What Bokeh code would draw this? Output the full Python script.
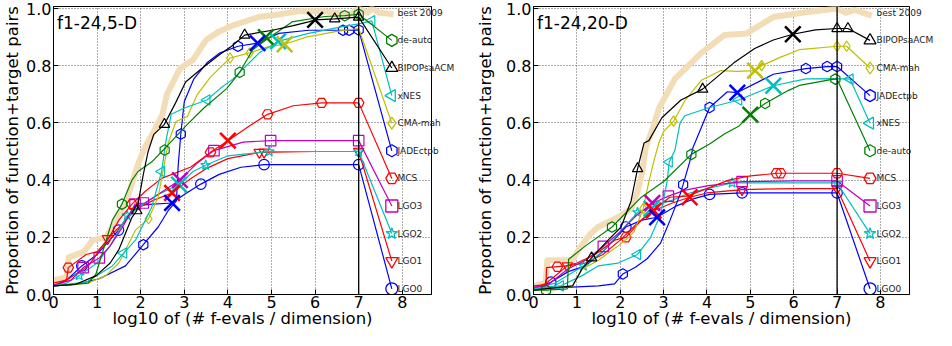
import math
from bokeh.plotting import figure
from bokeh.layouts import row
from bokeh.models import Span, Label, FixedTicker, Range1d, NumeralTickFormatter, LinearAxis
from bokeh.embed import file_html
from bokeh.resources import INLINE

FONT = "DejaVu Sans"

# ---------------- 5-D panel data ----------------
d5_best_x = [0, 0.3, 0.35, 0.7, 0.9, 1.2, 1.45, 1.7, 1.95, 2.1, 2.3, 2.5, 2.6, 2.9, 3.2, 3.5, 3.8, 4.1, 4.7, 5.2, 5.6, 6.2, 6.8, 7.0, 7.2, 7.3, 7.47, 7.8]
d5_best_y = [0.05, 0.06, 0.13, 0.15, 0.19, 0.20, 0.26, 0.34, 0.46, 0.515, 0.57, 0.63, 0.70, 0.79, 0.82, 0.89, 0.92, 0.94, 0.97, 0.98, 0.99, 0.99, 0.98, 1.0, 0.985, 1.0, 0.985, 0.98]

d5_deauto_x = [0, 0.8, 0.97, 1.19, 1.35, 1.57, 1.8, 1.94, 2.25, 2.58, 3.07, 3.45, 3.97, 4.27, 4.57, 4.87, 5.47, 6.22, 6.68, 7.0]
d5_deauto_y = [0.03, 0.04, 0.07, 0.18, 0.26, 0.316, 0.40, 0.43, 0.463, 0.515, 0.595, 0.652, 0.72, 0.777, 0.856, 0.89, 0.953, 0.972, 0.975, 0.98]
d5_deauto_mx = [1.57, 2.55, 4.27, 6.68, 7.0]
d5_deauto_my = [0.316, 0.505, 0.777, 0.975, 0.98]

d5_bipop_x = [0, 0.5, 0.98, 1.3, 1.5, 1.8, 1.91, 2.06, 2.17, 2.3, 2.545, 2.8, 3.03, 3.4, 3.82, 4.1, 4.385, 5.02, 5.5, 5.85, 6.0, 6.45, 7.0]
d5_bipop_y = [0.03, 0.035, 0.066, 0.11, 0.157, 0.27, 0.293, 0.42, 0.50, 0.56, 0.595, 0.67, 0.743, 0.79, 0.84, 0.87, 0.907, 0.924, 0.94, 0.953, 0.96, 0.964, 0.97]
d5_bipop_mx = [1.91, 2.545, 4.385, 6.45, 7.0]
d5_bipop_my = [0.293, 0.595, 0.907, 0.964, 0.97]

d5_xnes_x = [0, 0.75, 1.35, 1.61, 1.88, 2.03, 2.25, 2.48, 2.58, 2.7, 3.0, 3.52, 3.82, 4.12, 4.27, 4.72, 5.15, 5.85, 6.6, 7.0, 7.3]
d5_xnes_y = [0.03, 0.043, 0.10, 0.145, 0.19, 0.236, 0.304, 0.43, 0.538, 0.63, 0.652, 0.68, 0.72, 0.754, 0.777, 0.845, 0.885, 0.913, 0.936, 0.946, 0.957]
d5_xnes_mx = [1.61, 2.48, 3.52, 7.3]
d5_xnes_my = [0.145, 0.43, 0.68, 0.957]

d5_cma_x = [0, 0.8, 1.2, 1.5, 1.88, 2.18, 2.4, 2.55, 2.63, 2.81, 3.07, 3.3, 3.6, 4.05, 4.5, 4.9, 5.3, 5.8, 6.5, 7.0]
d5_cma_y = [0.03, 0.04, 0.066, 0.11, 0.225, 0.265, 0.34, 0.463, 0.53, 0.605, 0.622, 0.70, 0.76, 0.827, 0.845, 0.865, 0.875, 0.90, 0.92, 0.93]
d5_cma_mx = [2.18, 4.05, 4.5]
d5_cma_my = [0.265, 0.827, 0.845]

d5_jade_x = [0, 0.5, 1.05, 1.65, 2.06, 2.4, 2.63, 2.82, 2.86, 2.92, 3.0, 3.22, 3.52, 3.82, 4.23, 4.68, 5.17, 5.85, 6.64, 7.0]
d5_jade_y = [0.03, 0.035, 0.055, 0.10, 0.174, 0.236, 0.293, 0.327, 0.45, 0.561, 0.675, 0.754, 0.81, 0.845, 0.868, 0.879, 0.913, 0.924, 0.924, 0.925]
d5_jade_mx = [2.06, 2.92, 4.23, 6.64, 6.78, 7.0]
d5_jade_my = [0.174, 0.561, 0.868, 0.924, 0.924, 0.925]

d5_mcs_x = [0, 0.3, 0.34, 0.75, 1.0, 1.24, 1.5, 1.8, 2.1, 2.48, 3.15, 3.6, 4.0, 4.5, 4.91, 5.5, 6.15, 7.0]
d5_mcs_y = [0.04, 0.05, 0.094, 0.14, 0.15, 0.19, 0.26, 0.316, 0.36, 0.406, 0.446, 0.497, 0.538, 0.59, 0.63, 0.66, 0.67, 0.67]
d5_mcs_mx = [0.34, 1.8, 3.6, 4.91, 6.15, 7.0]
d5_mcs_my = [0.094, 0.316, 0.497, 0.63, 0.67, 0.67]

d5_lgo3_x = [0, 0.4, 0.68, 1.05, 1.3, 1.6, 1.87, 2.1, 2.5, 2.9, 3.3, 3.68, 4.35, 4.98, 6.0, 7.0]
d5_lgo3_y = [0.033, 0.05, 0.094, 0.128, 0.17, 0.24, 0.316, 0.32, 0.36, 0.40, 0.46, 0.503, 0.533, 0.538, 0.538, 0.538]
d5_lgo3_mx = [0.68, 1.05, 1.87, 2.06, 3.68, 4.98, 7.0]
d5_lgo3_my = [0.094, 0.128, 0.316, 0.32, 0.503, 0.538, 0.538]

d5_lgo2_x = [0, 0.3, 0.59, 1.0, 1.3, 1.69, 2.0, 2.4, 2.88, 3.2, 3.49, 4.0, 4.95, 6.0, 7.0]
d5_lgo2_y = [0.03, 0.04, 0.066, 0.11, 0.17, 0.276, 0.31, 0.35, 0.384, 0.43, 0.452, 0.485, 0.50, 0.50, 0.50]
d5_lgo2_mx = [0.59, 1.69, 3.49, 4.95, 7.0]
d5_lgo2_my = [0.066, 0.276, 0.452, 0.50, 0.50]

d5_lgo1_x = [0, 0.4, 0.8, 1.24, 1.6, 1.9, 2.3, 2.72, 3.1, 3.5, 4.0, 4.72, 6.0, 7.0]
d5_lgo1_y = [0.03, 0.06, 0.10, 0.195, 0.25, 0.30, 0.33, 0.355, 0.40, 0.44, 0.475, 0.497, 0.50, 0.50]
d5_lgo1_mx = [1.24, 4.72, 4.83, 7.0]
d5_lgo1_my = [0.195, 0.497, 0.498, 0.50]

d5_lgo0_x = [0, 0.3, 0.65, 1.0, 1.49, 1.87, 2.2, 2.72, 3.0, 3.38, 3.8, 4.3, 4.83, 6.0, 7.0]
d5_lgo0_y = [0.03, 0.05, 0.10, 0.14, 0.225, 0.31, 0.315, 0.32, 0.35, 0.386, 0.42, 0.445, 0.454, 0.454, 0.454]
d5_lgo0_mx = [0.65, 1.49, 3.38, 4.83, 7.0]
d5_lgo0_my = [0.10, 0.225, 0.386, 0.454, 0.454]

# crosses (algorithm order below)
cross_algos = ["de-auto", "BIPOPsaACM", "xNES", "CMA-mah", "JADEctpb", "MCS", "LGO3", "LGO2", "LGO1", "LGO0"]
d5_cross_x = [4.87, 6.0, 5.15, 5.3, 4.68, 4.0, 2.9, 2.88, 2.72, 2.72]
d5_cross_y = [0.90, 0.96, 0.885, 0.875, 0.879, 0.538, 0.40, 0.384, 0.355, 0.32]

d5_order = ["best 2009", "de-auto", "BIPOPsaACM", "xNES", "CMA-mah", "JADEctpb", "MCS", "LGO3", "LGO2", "LGO1", "LGO0"]

# ---------------- 20-D panel data ----------------
d20_best_x = [0, 0.28, 0.32, 0.89, 1.1, 1.3, 1.49, 1.95, 2.25, 2.4, 2.51, 2.59, 2.75, 2.89, 3.26, 3.87, 4.4, 4.92, 5.53, 6.28, 7.0, 7.2, 7.4, 7.8]
d20_best_y = [0.03, 0.04, 0.12, 0.12, 0.17, 0.21, 0.236, 0.27, 0.30, 0.36, 0.43, 0.515, 0.58, 0.65, 0.754, 0.845, 0.907, 0.913, 0.97, 0.987, 1.0, 0.985, 0.995, 0.975]

d20_bipop_x = [0, 0.9, 1.12, 1.34, 1.72, 2.02, 2.25, 2.4, 2.55, 2.66, 2.96, 3.4, 3.9, 4.62, 5.1, 5.53, 5.98, 6.5, 7.0, 7.25]
d20_bipop_y = [0.015, 0.03, 0.09, 0.128, 0.19, 0.236, 0.327, 0.44, 0.53, 0.538, 0.618, 0.68, 0.718, 0.81, 0.86, 0.89, 0.91, 0.925, 0.93, 0.93]
d20_bipop_mx = [1.34, 2.4, 3.9, 7.0, 7.25]
d20_bipop_my = [0.128, 0.44, 0.718, 0.93, 0.93]

d20_cma_x = [0, 0.9, 1.12, 1.5, 1.95, 2.2, 2.32, 2.53, 2.66, 2.77, 2.89, 3.0, 3.23, 3.5, 3.87, 4.32, 4.7, 5.11, 5.26, 5.7, 6.13, 7.0, 7.22]
d20_cma_y = [0.015, 0.03, 0.088, 0.12, 0.17, 0.20, 0.22, 0.30, 0.395, 0.463, 0.53, 0.57, 0.606, 0.68, 0.749, 0.783, 0.78, 0.783, 0.80, 0.83, 0.856, 0.868, 0.868]
d20_cma_mx = [2.53, 3.23, 5.26, 7.0, 7.22]
d20_cma_my = [0.30, 0.606, 0.80, 0.868, 0.868]

d20_jade_x = [0, 1.5, 1.87, 2.06, 2.35, 2.62, 2.93, 3.15, 3.38, 3.45, 3.6, 3.68, 3.87, 4.06, 4.47, 4.7, 5.53, 6.28, 6.77, 7.0]
d20_jade_y = [0.02, 0.03, 0.037, 0.072, 0.095, 0.125, 0.18, 0.26, 0.35, 0.384, 0.463, 0.515, 0.584, 0.654, 0.709, 0.706, 0.77, 0.79, 0.797, 0.797]
d20_jade_mx = [2.06, 3.45, 4.06, 6.28, 6.77, 7.0]
d20_jade_my = [0.072, 0.384, 0.654, 0.79, 0.797, 0.797]

d20_xnes_x = [0, 0.62, 1.12, 1.49, 1.95, 2.4, 2.7, 2.93, 3.08, 3.13, 3.26, 3.38, 3.49, 4.02, 4.73, 5.53, 6.28, 7.0, 7.3]
d20_xnes_y = [0.02, 0.03, 0.066, 0.10, 0.11, 0.14, 0.20, 0.28, 0.395, 0.463, 0.504, 0.60, 0.625, 0.652, 0.68, 0.73, 0.754, 0.755, 0.753]
d20_xnes_mx = [0.62, 2.4, 3.13, 4.73, 7.3]
d20_xnes_my = [0.03, 0.14, 0.463, 0.68, 0.753]

d20_deauto_x = [0, 0.29, 0.78, 0.81, 1.2, 1.81, 2.47, 3.0, 3.64, 4.06, 4.4, 4.73, 5.0, 5.34, 5.87, 6.13, 6.92, 7.0]
d20_deauto_y = [0.015, 0.015, 0.02, 0.123, 0.17, 0.236, 0.338, 0.395, 0.49, 0.526, 0.561, 0.588, 0.629, 0.668, 0.713, 0.731, 0.753, 0.753]
d20_deauto_mx = [0.29, 1.81, 3.64, 5.34, 6.96]
d20_deauto_my = [0.015, 0.236, 0.49, 0.668, 0.753]

d20_mcs_x = [0, 0.29, 0.3, 0.74, 1.0, 1.42, 1.87, 2.13, 2.55, 3.14, 3.53, 4.0, 4.5, 5.0, 5.64, 7.0]
d20_mcs_y = [0.03, 0.035, 0.094, 0.10, 0.11, 0.14, 0.19, 0.20, 0.27, 0.34, 0.344, 0.37, 0.40, 0.415, 0.424, 0.424]
d20_mcs_mx = [0.55, 2.13, 5.6, 5.7, 7.0]
d20_mcs_my = [0.097, 0.20, 0.424, 0.424, 0.424]

d20_lgo3_x = [0, 0.3, 0.8, 1.2, 1.61, 2.0, 2.4, 2.76, 3.11, 3.5, 4.0, 4.81, 6.0, 7.0]
d20_lgo3_y = [0.026, 0.03, 0.09, 0.12, 0.168, 0.22, 0.28, 0.32, 0.344, 0.365, 0.38, 0.395, 0.397, 0.397]
d20_lgo3_mx = [1.61, 3.11, 4.81, 7.0]
d20_lgo3_my = [0.168, 0.344, 0.395, 0.397]

d20_lgo2_x = [0, 0.5, 1.15, 1.6, 2.0, 2.4, 2.8, 3.2, 3.6, 4.0, 4.58, 6.0, 7.0]
d20_lgo2_y = [0.02, 0.04, 0.10, 0.15, 0.22, 0.287, 0.31, 0.33, 0.355, 0.37, 0.39, 0.39, 0.39]
d20_lgo2_mx = [1.15, 2.4, 4.58, 7.0]
d20_lgo2_my = [0.10, 0.287, 0.39, 0.39]

d20_lgo1_x = [0, 0.3, 0.78, 1.2, 1.6, 2.0, 2.4, 2.77, 3.2, 3.6, 4.0, 4.81, 6.0, 7.0]
d20_lgo1_y = [0.02, 0.04, 0.10, 0.11, 0.14, 0.19, 0.25, 0.293, 0.32, 0.34, 0.355, 0.367, 0.37, 0.37]
d20_lgo1_mx = [0.78, 4.81, 7.0]
d20_lgo1_my = [0.10, 0.367, 0.37]

d20_lgo0_x = [0, 0.4, 0.8, 1.2, 1.6, 2.13, 2.5, 2.85, 3.3, 3.7, 4.06, 4.81, 6.0, 7.0]
d20_lgo0_y = [0.02, 0.043, 0.08, 0.10, 0.15, 0.236, 0.26, 0.27, 0.31, 0.335, 0.35, 0.355, 0.355, 0.355]
d20_lgo0_mx = [0.4, 2.13, 4.06, 4.81, 7.0]
d20_lgo0_my = [0.043, 0.236, 0.35, 0.355, 0.355]

d20_cross_x = [5.0, 5.98, 5.53, 5.11, 4.7, 3.6, 2.74, 2.72, 2.77, 2.85]
d20_cross_y = [0.629, 0.91, 0.73, 0.783, 0.706, 0.34, 0.32, 0.30, 0.293, 0.27]

d20_order = ["best 2009", "BIPOPsaACM", "CMA-mah", "JADEctpb", "xNES", "de-auto", "MCS", "LGO3", "LGO2", "LGO1", "LGO0"]

# ---------------- styles ----------------
STYLE = {
    "de-auto":    dict(color="#008000", marker="hex", angle=math.pi / 2),
    "BIPOPsaACM": dict(color="#000000", marker="triangle", angle=0.0),
    "xNES":       dict(color="#00BFBF", marker="triangle", angle=math.pi / 2),
    "CMA-mah":    dict(color="#BFBF00", marker="diamond", angle=0.0),
    "JADEctpb":   dict(color="#0000FF", marker="hex", angle=math.pi / 2),
    "MCS":        dict(color="#FF0000", marker="hex", angle=0.0),
    "LGO3":       dict(color="#BF00BF", marker="square", angle=0.0),
    "LGO2":       dict(color="#00BFBF", marker="star", angle=0.0),
    "LGO1":       dict(color="#FF0000", marker="inverted_triangle", angle=0.0),
    "LGO0":       dict(color="#0000FF", marker="circle", angle=0.0),
}
TAN = "#F3DDB6"
DRAW_ORDER = ["LGO0", "LGO1", "LGO2", "LGO3", "MCS", "JADEctpb", "CMA-mah", "xNES", "de-auto", "BIPOPsaACM"]

panel5 = {
    "de-auto": (d5_deauto_x, d5_deauto_y, d5_deauto_mx, d5_deauto_my),
    "BIPOPsaACM": (d5_bipop_x, d5_bipop_y, d5_bipop_mx, d5_bipop_my),
    "xNES": (d5_xnes_x, d5_xnes_y, d5_xnes_mx, d5_xnes_my),
    "CMA-mah": (d5_cma_x, d5_cma_y, d5_cma_mx, d5_cma_my),
    "JADEctpb": (d5_jade_x, d5_jade_y, d5_jade_mx, d5_jade_my),
    "MCS": (d5_mcs_x, d5_mcs_y, d5_mcs_mx, d5_mcs_my),
    "LGO3": (d5_lgo3_x, d5_lgo3_y, d5_lgo3_mx, d5_lgo3_my),
    "LGO2": (d5_lgo2_x, d5_lgo2_y, d5_lgo2_mx, d5_lgo2_my),
    "LGO1": (d5_lgo1_x, d5_lgo1_y, d5_lgo1_mx, d5_lgo1_my),
    "LGO0": (d5_lgo0_x, d5_lgo0_y, d5_lgo0_mx, d5_lgo0_my),
}
panel20 = {
    "de-auto": (d20_deauto_x, d20_deauto_y, d20_deauto_mx, d20_deauto_my),
    "BIPOPsaACM": (d20_bipop_x, d20_bipop_y, d20_bipop_mx, d20_bipop_my),
    "xNES": (d20_xnes_x, d20_xnes_y, d20_xnes_mx, d20_xnes_my),
    "CMA-mah": (d20_cma_x, d20_cma_y, d20_cma_mx, d20_cma_my),
    "JADEctpb": (d20_jade_x, d20_jade_y, d20_jade_mx, d20_jade_my),
    "MCS": (d20_mcs_x, d20_mcs_y, d20_mcs_mx, d20_mcs_my),
    "LGO3": (d20_lgo3_x, d20_lgo3_y, d20_lgo3_mx, d20_lgo3_my),
    "LGO2": (d20_lgo2_x, d20_lgo2_y, d20_lgo2_mx, d20_lgo2_my),
    "LGO1": (d20_lgo1_x, d20_lgo1_y, d20_lgo1_mx, d20_lgo1_my),
    "LGO0": (d20_lgo0_x, d20_lgo0_y, d20_lgo0_mx, d20_lgo0_my),
}

X_MAX = 8.67
LABEL_MX = 7.76
LABEL_TX = 7.91
LABEL_TOP = 0.985
LABEL_STEP = 0.0965
XLABEL = "log10 of (# f-evals / dimension)"
YLABEL = "Proportion of function+target pairs"


def make_panel(width, bl, br, lstand, curves, best_x, best_y, cross_x, cross_y, order, title):
    frame_w = width - bl - br
    p = figure(width=width, height=330, x_range=Range1d(0, X_MAX), y_range=Range1d(0, 1.007),
               min_border_left=bl, min_border_right=br, min_border_top=6, min_border_bottom=10,
               output_backend="svg", toolbar_location=None)
    p.outline_line_color = "black"
    p.outline_line_width = 1
    p.outline_line_alpha = 1
    p.background_fill_color = "white"
    p.border_fill_color = "white"

    p.xaxis.ticker = FixedTicker(ticks=[0, 1, 2, 3, 4, 5, 6, 7, 8])
    p.yaxis.ticker = FixedTicker(ticks=[0, 0.2, 0.4, 0.6, 0.8, 1.0])
    p.yaxis.formatter = NumeralTickFormatter(format="0.0")
    for ax in (p.xaxis[0], p.yaxis[0]):
        ax.major_label_text_font = FONT
        ax.major_label_text_font_size = "16px"
        ax.major_label_text_color = "black"
        ax.axis_label_text_font = FONT
        ax.axis_label_text_font_size = "16.5px"
        ax.axis_label_text_font_style = "normal"
        ax.axis_label_text_color = "black"
        ax.major_tick_in = 5
        ax.major_tick_out = 0
        ax.minor_tick_in = 0
        ax.minor_tick_out = 0
        ax.major_label_standoff = 2
        ax.axis_line_color = "black"
        ax.major_tick_line_color = "black"
    p.xaxis.major_label_standoff = 1
    p.xaxis.axis_label = XLABEL
    p.xaxis.axis_label_standoff = -2
    p.yaxis.axis_label = YLABEL
    p.yaxis.axis_label_standoff = lstand

    p.xgrid.ticker = FixedTicker(ticks=[0, 1, 2, 3, 4, 5, 6, 7, 8])
    p.ygrid.ticker = FixedTicker(ticks=[0, 0.2, 0.4, 0.6, 0.8, 1.0])
    for g in (p.xgrid[0], p.ygrid[0]):
        g.grid_line_color = "black"
        g.grid_line_dash = "1 2"
        g.grid_line_width = 0.8
        g.grid_line_alpha = 0.8

    # best 2009 reference
    p.line(best_x, best_y, line_color=TAN, line_width=6, line_join="round")

    label_y = {name: LABEL_TOP - i * LABEL_STEP for i, name in enumerate(order)}

    for name in DRAW_ORDER:
        st = STYLE[name]
        xs, ys, mx, my = curves[name]
        ly = label_y[name]
        p.line(list(xs) + [LABEL_MX], list(ys) + [ly], line_color=st["color"], line_width=1.2)
        p.scatter(mx, my, marker=st["marker"], angle=st["angle"], size=10.5,
                  line_color=st["color"], fill_alpha=0, line_width=1.2)
        p.scatter([LABEL_MX], [ly], marker=st["marker"], angle=st["angle"], size=12,
                  line_color=st["color"], fill_alpha=0, line_width=1.3)

    for name, cx, cy in zip(cross_algos, cross_x, cross_y):
        p.scatter([cx], [cy], marker="x", size=22, line_color=STYLE[name]["color"], line_width=2.5)

    p.add_layout(Span(location=7, dimension="height", line_color="black", line_width=1.3))

    # algorithm names: right-hand axis whose labels are pulled back inside the frame
    ticks = [label_y[n] for n in order]
    name_axis = LinearAxis(ticker=FixedTicker(ticks=ticks),
                           major_label_overrides={label_y[n]: n for n in order},
                           major_label_standoff=-round((X_MAX - LABEL_TX) * frame_w / X_MAX),
                           major_label_text_font=FONT, major_label_text_font_size="9px",
                           major_label_text_color="#222222",
                           major_tick_in=0, major_tick_out=0, minor_tick_in=0, minor_tick_out=0,
                           axis_line_color=None)
    p.add_layout(name_axis, "right")

    p.add_layout(Label(x=0.08, y=0.95, text=title, text_font=FONT, text_font_size="17px",
                       text_color="black", text_baseline="alphabetic"))
    return p


p1 = make_panel(457, 49, 23, 1, panel5, d5_best_x, d5_best_y, d5_cross_x, d5_cross_y, d5_order, "f1-24,5-D")
p2 = make_panel(479, 76, 23, 8, panel20, d20_best_x, d20_best_y, d20_cross_x, d20_cross_y, d20_order, "f1-24,20-D")

layout = row(p1, p2)
open("out.html", "w").write(file_html(layout, INLINE))
